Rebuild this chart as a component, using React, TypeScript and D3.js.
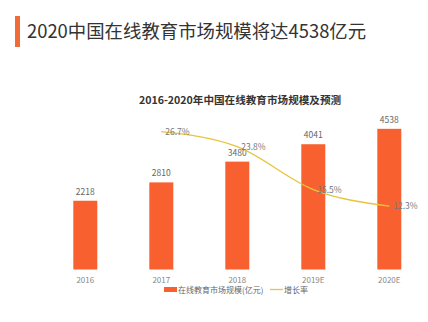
import React from "react";
import * as d3 from "d3";

const years = ["2016", "2017", "2018", "2019E", "2020E"];
const marketSize = [2218, 2810, 3480, 4041, 4538];
const growthYears = ["2017", "2018", "2019E", "2020E"];
const growthRate = [26.7, 23.8, 15.5, 12.3];

const W = 428;
const H = 322;
const FONT = "'Noto Sans CJK SC', 'Noto Sans', sans-serif";
const BAR = "#f8612f";
const LINE = "#e6c53c";

export default function App() {
  const x = d3.scaleBand<string>().domain(years).range([47.3, 427.3]).paddingInner(0).paddingOuter(0);
  const bw = 24;
  const y = d3.scaleLinear().domain([0, 5000]).range([269.5, 114.5]);
  const y2 = d3.scaleLinear().domain([0, 30]).range([269.5, 114.7]);
  const cx = (d: string) => (x(d) as number) + x.bandwidth() / 2;

  const pts: [number, number][] = growthYears.map((d, i) => [cx(d), y2(growthRate[i])]);
  const line = d3.line().curve(d3.curveMonotoneX)(pts) || "";

  return (
    <svg width={W} height={H} style={{ position: "absolute", left: 0, top: 0, background: "#fff" }} fontFamily={FONT}>
      <rect x={15} y={16} width={5} height={31} fill="#f26a37" />
      <text x={27} y={37.5} fontSize={18.4} fill="#333">2020中国在线教育市场规模将达4538亿元</text>
      <text x={240} y={104} fontSize={10.6} fontWeight="bold" fill="#333" textAnchor="middle">2016-2020年中国在线教育市场规模及预测</text>

      {years.map((d, i) => (
        <g key={d}>
          <rect x={cx(d) - bw / 2} y={y(marketSize[i])} width={bw} height={y(0) - y(marketSize[i])} fill={BAR} />
          <text x={cx(d)} y={y(marketSize[i]) - 6} fontSize={8.5} fill="#666" textAnchor="middle">{marketSize[i]}</text>
          <text x={cx(d)} y={283} fontSize={8} fill="#888" textAnchor="middle">{d}</text>
        </g>
      ))}

      <path d={line} fill="none" stroke={LINE} strokeWidth={1.3} />
      {growthYears.map((d, i) => (
        <text key={d} x={cx(d) + 4} y={y2(growthRate[i]) + 3} fontSize={8.5} fill="#777">{growthRate[i].toFixed(1)}%</text>
      ))}

      <rect x={164} y={287} width={13} height={5} fill={BAR} />
      <text x={178} y={292.5} fontSize={8} fill="#666">在线教育市场规模(亿元)</text>
      <line x1={270} x2={283} y1={289.5} y2={289.5} stroke={LINE} strokeWidth={1.3} />
      <text x={284} y={292.5} fontSize={8} fill="#666">增长率</text>
    </svg>
  );
}
